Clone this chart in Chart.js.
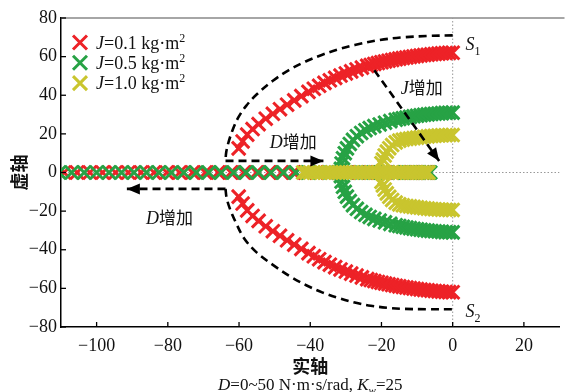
<!DOCTYPE html>
<html><head><meta charset="utf-8">
<script src="https://cdn.jsdelivr.net/npm/chart.js@4/dist/chart.umd.min.js"></script>
<style>
html,body{margin:0;padding:0;background:#fff;overflow:hidden;width:566px;height:392px}
#wrap{position:absolute;left:0;top:0;width:572px;height:392px}
</style>
</head><body><div id="wrap"><canvas id="c" width="572" height="392"></canvas></div>
<script>
// ---------- tick labels ----------
const xTicks = [-100, -80, -60, -40, -20, 0, 20];
const yTicks = [-80, -60, -40, -20, 0, 20, 40, 60, 80];

// ---------- J = 0.1 kg·m² (red) ----------
const redArcX = [0,-1,-2,-3,-4,-5,-6,-7,-8,-9,-10,-11,-12,-13,-14,-15,-16,-17,-18,-19,-20,-21,-22,-23,
  -24,-25.5,-27,-28.5,-30,-31.5,-33,-34.5,-36,-37.5,-39,-40.5,
  -42.5,-44.5,-46.5,-48.5,-50.5,-52.5,-54.5,-56.2,-57.7,-59,-60.1];
const redUpperY = [62.0,61.95,61.85,61.7,61.55,61.4,61.2,61.0,60.8,60.6,60.35,60.1,59.85,59.55,59.25,58.95,58.6,58.25,57.9,57.5,57.1,56.65,56.2,55.7,
  55.2,54.3,53.35,52.35,51.3,50.2,49.0,47.75,46.4,44.9,43.35,41.75,
  39.55,37.35,35.1,32.8,30.4,27.85,25.05,22.5,19.6,16.1,12.5];
const redLowerY = [-62.0,-61.95,-61.85,-61.7,-61.55,-61.4,-61.2,-61.0,-60.8,-60.6,-60.35,-60.1,-59.85,-59.55,-59.25,-58.95,-58.6,-58.25,-57.9,-57.5,-57.1,-56.65,-56.2,-55.7,
  -55.2,-54.3,-53.35,-52.35,-51.3,-50.2,-49.0,-47.75,-46.4,-44.9,-43.35,-41.75,
  -39.55,-37.35,-35.1,-32.8,-30.4,-27.85,-25.05,-22.5,-19.6,-16.1,-12.5];
const redRealX = [-7,-7.6,-8.4,-9.3,-10.4,-11.7,-13.2,-14.9,-16.8,-18.9,-21.2,-23.7,-26.4,-29.2,-32.1,-35.1,-38.2,-41.4,-44.7,-48.1,-51.6,-55.1,-58.7,-62.3,-65.9,-69.5,-73.1,-76.7,-80.3,-83.9,-87.5,-91.1,-94.7,-98.3,-101.9,-105.5,-109.1];

// ---------- J = 0.5 kg·m² (green) ----------
const greenArcX = [0,-1,-2,-3,-4,-5,-6,-7,-8,-9,-10,-11,-12,-13,-14,-15,-16,-17.5,-19,-20.5,-22,-23.3,-24.5,-25.7,-26.9,-28,-28.9,-29.7,-30.3,-30.8,-31.2,-31.4];
const greenUpperY = [31.0,30.95,30.9,30.75,30.6,30.45,30.3,30.1,29.9,29.65,29.4,29.1,28.8,28.45,28.1,27.7,27.3,26.6,25.8,24.9,24.0,23.0,21.9,20.5,18.8,16.9,14.8,12.5,10.0,7.4,4.7,1.9];
const greenLowerY = [-31.0,-30.95,-30.9,-30.75,-30.6,-30.45,-30.3,-30.1,-29.9,-29.65,-29.4,-29.1,-28.8,-28.45,-28.1,-27.7,-27.3,-26.6,-25.8,-24.9,-24.0,-23.0,-21.9,-20.5,-18.8,-16.9,-14.8,-12.5,-10.0,-7.4,-4.7,-1.9];
const greenRealX = [-6.3,-6.7,-7.2,-7.8,-8.5,-9.3,-10.2,-11.2,-12.4,-13.7,-15.1,-16.6,-18.2,-19.9,-21.7,-23.6,-25.6,-27.7,-29.9,-32.2,-34.6,-37.1,-40.5,-44,-47.5,-51,-54.5,-58,-61.5,-65,-68.5,-72,-75.5,-79,-82.5,-86,-89.5,-93,-96.5,-100,-103.5,-107,-110.5];

// ---------- J = 1.0 kg·m² (yellow) ----------
const yellowArcX = [0,-1,-2,-3,-4,-5,-6,-7,-8,-9,-10,-11,-12,-13,-14,-15,-16,-17,-17.8,-18.5,-19.1,-19.6,-20];
const yellowUpperY = [19.4,19.38,19.33,19.26,19.17,19.05,18.9,18.72,18.52,18.3,18.05,17.8,17.55,17.3,17.0,16.5,15.6,14.2,12.6,10.8,8.8,6.7,4.8];
const yellowLowerY = [-19.4,-19.38,-19.33,-19.26,-19.17,-19.05,-18.9,-18.72,-18.52,-18.3,-18.05,-17.8,-17.55,-17.3,-17.0,-16.5,-15.6,-14.2,-12.6,-10.8,-8.8,-6.7,-4.8];
const yellowRealX = [-6.8,-7.3,-7.9,-8.6,-9.4,-10.3,-11.2,-12.1,-13,-14,-15,-16,-17,-18,-19,-20,-21,-22,-23,-24,-25,-26,-27,-28,-29,-30,-31,-32,-33,-34,-35,-36,-37,-38,-39,-40,-41,-42];

// ---------- dashed guide curves / arrows ----------
const upperEnvX = [0,-7,-13.8,-20.5,-27.5,-32,-36.6,-41.3,-46,-50.5,-55,-58,-60.2,-61.8,-62.9,-63.6,-63.8];
const upperEnvY = [71,70.7,70,68.6,66,63.8,61,57.5,53,47.5,40.5,34.5,28.5,22,16,10.5,6];
const lowerEnvX = [-63.8,-63.5,-62.6,-61,-58.6,-55,-50,-45.5,-41,-36.5,-32,-27.5,-23,-18,-13.8,-7,0];
const lowerEnvY = [-8.5,-13,-18.6,-25.5,-34,-41.5,-48.5,-54,-58.5,-62.2,-65,-67.3,-69,-70.1,-70.6,-70.8,-70.8];
const dArrowUpX = [-63.8,-36.3], dArrowUpY = [6,6];
const dArrowDownX = [-63.8,-91.5], dArrowDownY = [-8.5,-8.5];
const jArrowX = [-22,-3.8], jArrowY = [53,6];

// ---------- text ----------
const legendJ = ['0.1','0.5','1.0'];
const increaseText = '增加';
const xTitle = '实轴', yTitle = '虚轴';

const RED = '#ED2227', GREEN = '#27A245', YELLOW = '#C9C52E';
const SERIF = '"Liberation Serif","Times New Roman",serif';
const CJK = '"Noto Sans CJK SC","Noto Sans CJK JP",sans-serif';

const pts = (xs, ys) => xs.map((x, i) => ({x: x, y: ys[i]}));
const realPts = xs => xs.map(x => ({x: x, y: 0}));
const markerDS = (color, arcX, up, lo, realX, order) => ({
  data: realPts(realX).concat(pts(arcX, up), pts(arcX, lo)),
  showLine: false, pointStyle: 'crossRot', pointRadius: 9.5, pointHoverRadius: 9.5,
  borderColor: color, backgroundColor: color, pointBorderWidth: 3, order: order
});
const lineDS = (xs, ys, opts) => Object.assign({
  data: pts(xs, ys), showLine: true, pointRadius: 0, borderColor: '#000',
  borderWidth: 2.6, borderDash: [8, 5], fill: false, tension: 0.35, order: 0
}, opts || {});

const arrows = [
  {x: dArrowUpX, y: dArrowUpY},
  {x: dArrowDownX, y: dArrowDownY},
  {x: jArrowX, y: jArrowY}
];

function fmt(v){ return v < 0 ? '\u2212' + Math.abs(v) : String(v); }
function runsWidth(ctx, runs){ let w = 0; for (const r of runs){ ctx.font = r.f; w += ctx.measureText(r.t).width; } return w; }
function drawRuns(ctx, x, y, runs){
  let cx = x;
  for (const r of runs){ ctx.font = r.f; ctx.fillText(r.t, cx, y + (r.dy || 0)); cx += ctx.measureText(r.t).width; }
}

const annot = {
  id: 'annot',
  beforeDatasetsDraw(chart){
    const {ctx, chartArea: a} = chart;
    ctx.save();
    ctx.strokeStyle = '#888'; ctx.lineWidth = 1.3;
    ctx.beginPath(); ctx.moveTo(a.left, a.top); ctx.lineTo(a.right + 5, a.top); ctx.stroke();
    ctx.restore();
  },
  afterDraw(chart){
    const {ctx, chartArea: a, scales: {x: xs, y: ys}} = chart;
    ctx.save();
    // inward ticks
    ctx.strokeStyle = '#000'; ctx.lineWidth = 1.3;
    for (const v of xTicks){ const p = xs.getPixelForValue(v); ctx.beginPath(); ctx.moveTo(p, a.bottom); ctx.lineTo(p, a.bottom - 5); ctx.stroke(); }
    for (const v of yTicks){ const p = ys.getPixelForValue(v); ctx.beginPath(); ctx.moveTo(a.left, p); ctx.lineTo(a.left + 5, p); ctx.stroke(); }
    // arrowheads
    ctx.fillStyle = '#000';
    for (const ar of arrows){
      const n = ar.x.length;
      const x1 = xs.getPixelForValue(ar.x[n-2]), y1 = ys.getPixelForValue(ar.y[n-2]);
      const x2 = xs.getPixelForValue(ar.x[n-1]), y2 = ys.getPixelForValue(ar.y[n-1]);
      const ang = Math.atan2(y2 - y1, x2 - x1), L = 13, W = 5.5;
      ctx.beginPath();
      ctx.moveTo(x2, y2);
      ctx.lineTo(x2 - L*Math.cos(ang) + W*Math.sin(ang), y2 - L*Math.sin(ang) - W*Math.cos(ang));
      ctx.lineTo(x2 - L*Math.cos(ang) - W*Math.sin(ang), y2 - L*Math.sin(ang) + W*Math.cos(ang));
      ctx.closePath(); ctx.fill();
    }
    // legend
    ctx.textBaseline = 'alphabetic'; ctx.textAlign = 'left'; ctx.fillStyle = '#111';
    const cols = [RED, GREEN, YELLOW];
    for (let i = 0; i < 3; i++){
      const cy = a.top + 24.5 + i*20.3, cx = a.left + 19;
      ctx.strokeStyle = cols[i]; ctx.lineWidth = 3;
      ctx.beginPath(); ctx.moveTo(cx-7, cy-7); ctx.lineTo(cx+7, cy+7); ctx.moveTo(cx+7, cy-7); ctx.lineTo(cx-7, cy+7); ctx.stroke();
      ctx.fillStyle = '#111';
      drawRuns(ctx, a.left + 35, cy + 6, [
        {t: 'J', f: 'italic 18px ' + SERIF},
        {t: '=' + legendJ[i] + ' kg\u00b7m', f: '18px ' + SERIF},
        {t: '2', f: '12px ' + SERIF, dy: -7}
      ]);
    }
    // S1, S2
    drawRuns(ctx, xs.getPixelForValue(3.6), ys.getPixelForValue(63.5), [{t:'S', f:'italic 18px ' + SERIF}, {t:'1', f:'12px ' + SERIF, dy: 5}]);
    drawRuns(ctx, xs.getPixelForValue(3.6), ys.getPixelForValue(-74.6), [{t:'S', f:'italic 18px ' + SERIF}, {t:'2', f:'12px ' + SERIF, dy: 5}]);
    // D增加 / J增加
    drawRuns(ctx, xs.getPixelForValue(-51.4), ys.getPixelForValue(12.9), [{t:'D', f:'italic 18px ' + SERIF}, {t: increaseText, f:'17px ' + CJK}]);
    drawRuns(ctx, xs.getPixelForValue(-14.6), ys.getPixelForValue(40.4), [{t:'J', f:'italic 18px ' + SERIF}, {t: increaseText, f:'17px ' + CJK}]);
    drawRuns(ctx, xs.getPixelForValue(-86.1), ys.getPixelForValue(-26.9), [{t:'D', f:'italic 18px ' + SERIF}, {t: increaseText, f:'17px ' + CJK}]);
    // axis titles
    const midX = (a.left + a.right) / 2;
    ctx.font = 'bold 18px ' + CJK; ctx.textAlign = 'center'; ctx.textBaseline = 'middle';
    ctx.fillText(xTitle, midX, 366);
    ctx.save(); ctx.translate(19, (a.top + a.bottom)/2); ctx.rotate(-Math.PI/2); ctx.fillText(yTitle, 0, 0); ctx.restore();
    // caption
    ctx.textAlign = 'left'; ctx.textBaseline = 'alphabetic';
    const cap = [
      {t:'D', f:'italic 17px ' + SERIF},
      {t:'=0~50 N\u00b7m\u00b7s/rad, ', f:'17px ' + SERIF},
      {t:'K', f:'italic 17px ' + SERIF},
      {t:'w', f:'italic 11px ' + SERIF, dy: 4},
      {t:'=25', f:'17px ' + SERIF}
    ];
    drawRuns(ctx, midX - runsWidth(ctx, cap)/2, 390, cap);
    ctx.restore();
  }
};

new Chart(document.getElementById('c'), {
  type: 'scatter',
  data: {
    datasets: [
      lineDS([-110, 30], [0, 0], {borderColor: '#999', borderWidth: 1, borderDash: [1.5, 2], tension: 0, order: 10}),
      lineDS([0, 0], [-80, 80], {borderColor: '#999', borderWidth: 1, borderDash: [1.5, 2], tension: 0, order: 10}),
      markerDS(RED, redArcX, redUpperY, redLowerY, redRealX, 3),
      markerDS(GREEN, greenArcX, greenUpperY, greenLowerY, greenRealX, 2),
      markerDS(YELLOW, yellowArcX, yellowUpperY, yellowLowerY, yellowRealX, 1),
      lineDS(upperEnvX, upperEnvY),
      lineDS(lowerEnvX, lowerEnvY),
      lineDS(dArrowUpX, dArrowUpY, {tension: 0}),
      lineDS(dArrowDownX, dArrowDownY, {tension: 0}),
      lineDS(jArrowX, jArrowY, {tension: 0})
    ]
  },
  options: {
    responsive: false, animation: false, devicePixelRatio: 1, events: [],
    layout: {padding: {left: 0, right: 3, top: 18, bottom: 0}},
    plugins: {legend: {display: false}, tooltip: {enabled: false}},
    scales: {
      x: {
        type: 'linear', min: -110, max: 30,
        afterBuildTicks: s => { s.ticks = xTicks.map(v => ({value: v})); },
        afterFit: s => { s.height = 65; },
        grid: {display: false, drawTicks: false},
        border: {display: true, color: '#000', width: 1.5},
        ticks: {padding: 8, color: '#111', font: {family: SERIF, size: 18}, callback: v => fmt(v), maxRotation: 0, autoSkip: false}
      },
      y: {
        type: 'linear', min: -80, max: 80,
        afterBuildTicks: s => { s.ticks = yTicks.map(v => ({value: v})); },
        afterFit: s => { s.width = 61; },
        grid: {display: false, drawTicks: false},
        border: {display: true, color: '#000', width: 1.5},
        ticks: {padding: 4, color: '#111', font: {family: SERIF, size: 18}, callback: v => fmt(v), autoSkip: false}
      }
    }
  },
  plugins: [annot]
});
</script>
</body></html>
